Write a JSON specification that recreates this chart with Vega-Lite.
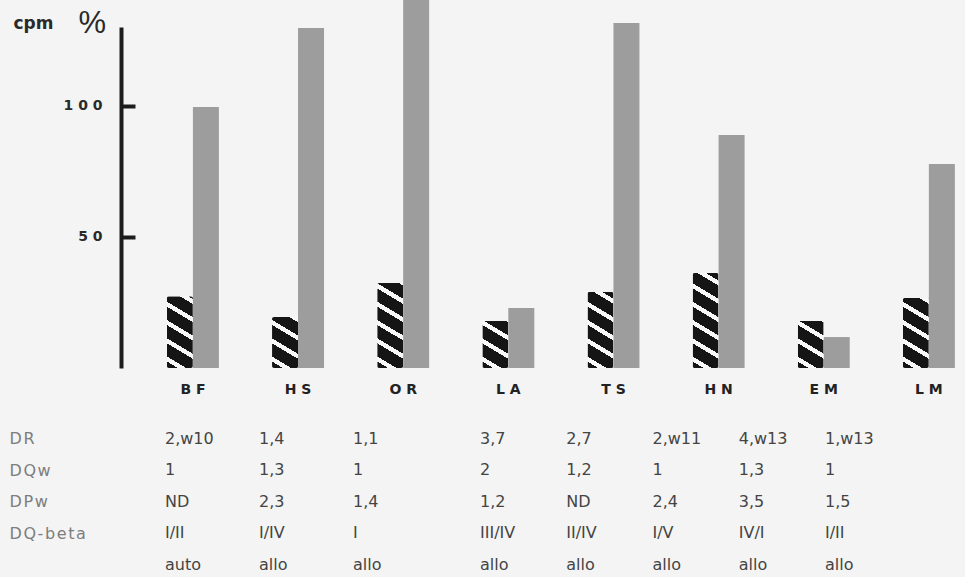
{
  "$schema": "https://vega.github.io/schema/vega-lite/v6.json",
  "width": 965,
  "height": 577,
  "autosize": "none",
  "padding": 0,
  "background": "#f4f4f4",
  "config": {"view": {"stroke": null}, "axis": {"grid": false}},
  "datasets": {
    "bars": [
      {"group": "BF", "measure": "cpm", "value": 27.4}, {"group": "BF", "measure": "%", "value": 99.5},
      {"group": "HS", "measure": "cpm", "value": 19.4}, {"group": "HS", "measure": "%", "value": 129.6},
      {"group": "OR", "measure": "cpm", "value": 32.4}, {"group": "OR", "measure": "%", "value": 142},
      {"group": "LA", "measure": "cpm", "value": 17.9}, {"group": "LA", "measure": "%", "value": 22.9},
      {"group": "TS", "measure": "cpm", "value": 29}, {"group": "TS", "measure": "%", "value": 131.5},
      {"group": "HN", "measure": "cpm", "value": 36.2}, {"group": "HN", "measure": "%", "value": 88.8},
      {"group": "EM", "measure": "cpm", "value": 17.9}, {"group": "EM", "measure": "%", "value": 11.8},
      {"group": "LM", "measure": "cpm", "value": 26.7}, {"group": "LM", "measure": "%", "value": 77.8}
    ],
    "table": [
      {"group": "BF", "row": "DR", "value": "2,w10"}, {"group": "BF", "row": "DQw", "value": "1"}, {"group": "BF", "row": "DPw", "value": "ND"}, {"group": "BF", "row": "DQ-beta", "value": "I/II"}, {"group": "BF", "row": "type", "value": "auto"},
      {"group": "HS", "row": "DR", "value": "1,4"}, {"group": "HS", "row": "DQw", "value": "1,3"}, {"group": "HS", "row": "DPw", "value": "2,3"}, {"group": "HS", "row": "DQ-beta", "value": "I/IV"}, {"group": "HS", "row": "type", "value": "allo"},
      {"group": "OR", "row": "DR", "value": "1,1"}, {"group": "OR", "row": "DQw", "value": "1"}, {"group": "OR", "row": "DPw", "value": "1,4"}, {"group": "OR", "row": "DQ-beta", "value": "I"}, {"group": "OR", "row": "type", "value": "allo"},
      {"group": "LA", "row": "DR", "value": "3,7"}, {"group": "LA", "row": "DQw", "value": "2"}, {"group": "LA", "row": "DPw", "value": "1,2"}, {"group": "LA", "row": "DQ-beta", "value": "III/IV"}, {"group": "LA", "row": "type", "value": "allo"},
      {"group": "TS", "row": "DR", "value": "2,7"}, {"group": "TS", "row": "DQw", "value": "1,2"}, {"group": "TS", "row": "DPw", "value": "ND"}, {"group": "TS", "row": "DQ-beta", "value": "II/IV"}, {"group": "TS", "row": "type", "value": "allo"},
      {"group": "HN", "row": "DR", "value": "2,w11"}, {"group": "HN", "row": "DQw", "value": "1"}, {"group": "HN", "row": "DPw", "value": "2,4"}, {"group": "HN", "row": "DQ-beta", "value": "I/V"}, {"group": "HN", "row": "type", "value": "allo"},
      {"group": "EM", "row": "DR", "value": "4,w13"}, {"group": "EM", "row": "DQw", "value": "1,3"}, {"group": "EM", "row": "DPw", "value": "3,5"}, {"group": "EM", "row": "DQ-beta", "value": "IV/I"}, {"group": "EM", "row": "type", "value": "allo"},
      {"group": "LM", "row": "DR", "value": "1,w13"}, {"group": "LM", "row": "DQw", "value": "1"}, {"group": "LM", "row": "DPw", "value": "1,5"}, {"group": "LM", "row": "DQ-beta", "value": "I/II"}, {"group": "LM", "row": "type", "value": "allo"}
    ]
  },
  "layer": [
    {
      "data": {"name": "bars"},
      "encoding": {
        "x": {
          "field": "group", "type": "nominal",
          "scale": {"domain": ["BF", "HS", "OR", "LA", "TS", "HN", "EM", "LM"], "range": [140.4, 981.5], "paddingInner": 0, "paddingOuter": 0},
          "axis": {"orient": "bottom", "offset": -209, "domain": false, "ticks": false, "title": null, "labelAngle": 0, "labelPadding": 14, "labelFont": "DejaVu Sans", "labelFontSize": 14, "labelFontWeight": "bold", "labelColor": "#222222", "labelExpr": "join(split(datum.label, ''), ' ')"}
        },
        "xOffset": {"field": "measure", "type": "nominal", "scale": {"domain": ["cpm", "%"], "range": [26.5, 78.5], "paddingInner": 0, "paddingOuter": 0}},
        "y": {
          "field": "value", "type": "quantitative",
          "scale": {"domain": [0, 130], "range": [368, 27], "nice": false, "zero": true},
          "axis": {"orient": "left", "offset": -121, "values": [50, 100], "grid": false, "domain": true, "domainWidth": 4, "domainColor": "#1c1c1c", "ticks": true, "tickSize": -14, "tickWidth": 4, "tickColor": "#1c1c1c", "labelFont": "DejaVu Sans", "labelFontSize": 14, "labelFontWeight": "bold", "labelColor": "#2a2a2a", "labelPadding": 33, "labelExpr": "join(split(datum.label, ''), ' ')", "title": "cpm", "titleAngle": 0, "titleX": -108, "titleY": 28, "titleAlign": "left", "titleBaseline": "alphabetic", "titleFont": "DejaVu Sans", "titleFontSize": 17, "titleFontWeight": "bold", "titleColor": "#2a2a2a"}
        }
      },
      "layer": [
        {"transform": [{"filter": "datum.measure === '%'"}], "mark": {"type": "bar", "fill": "#9d9d9d"}},
        {"transform": [{"filter": "datum.measure === 'cpm' && datum.group === 'BF'"}], "mark": {"type": "bar", "cornerRadius": 2, "fill": {"gradient": "linear", "x1": 0, "y1": 1, "x2": 0.2518, "y2": -0.1621, "stops": [
                {"offset": 0, "color": "#151515"}, {"offset": 0.0742, "color": "#151515"}, {"offset": 0.0742, "color": "#f8f8f8"}, {"offset": 0.1313, "color": "#f8f8f8"}, {"offset": 0.1313, "color": "#151515"},
                {"offset": 0.2831, "color": "#151515"}, {"offset": 0.2831, "color": "#f8f8f8"}, {"offset": 0.3402, "color": "#f8f8f8"}, {"offset": 0.3402, "color": "#151515"},
                {"offset": 0.4920, "color": "#151515"}, {"offset": 0.4920, "color": "#f8f8f8"}, {"offset": 0.5491, "color": "#f8f8f8"}, {"offset": 0.5491, "color": "#151515"},
                {"offset": 0.7009, "color": "#151515"}, {"offset": 0.7009, "color": "#f8f8f8"}, {"offset": 0.7580, "color": "#f8f8f8"}, {"offset": 0.7580, "color": "#151515"},
                {"offset": 0.9098, "color": "#151515"}, {"offset": 0.9098, "color": "#f8f8f8"}, {"offset": 0.9669, "color": "#f8f8f8"}, {"offset": 0.9669, "color": "#151515"}, {"offset": 1, "color": "#151515"}]}}},
        {"transform": [{"filter": "datum.measure === 'cpm' && datum.group === 'HS'"}], "mark": {"type": "bar", "cornerRadius": 2, "fill": {"gradient": "linear", "x1": 0, "y1": 1, "x2": 0.3653, "y2": -0.1942, "stops": [
                {"offset": 0, "color": "#151515"}, {"offset": 0.0976, "color": "#151515"}, {"offset": 0.0976, "color": "#f8f8f8"}, {"offset": 0.1727, "color": "#f8f8f8"}, {"offset": 0.1727, "color": "#151515"},
                {"offset": 0.3724, "color": "#151515"}, {"offset": 0.3724, "color": "#f8f8f8"}, {"offset": 0.4474, "color": "#f8f8f8"}, {"offset": 0.4474, "color": "#151515"},
                {"offset": 0.6471, "color": "#151515"}, {"offset": 0.6471, "color": "#f8f8f8"}, {"offset": 0.7222, "color": "#f8f8f8"}, {"offset": 0.7222, "color": "#151515"},
                {"offset": 0.9219, "color": "#151515"}, {"offset": 0.9219, "color": "#f8f8f8"}, {"offset": 0.9970, "color": "#f8f8f8"}, {"offset": 0.9970, "color": "#151515"}, {"offset": 1, "color": "#151515"}]}}},
        {"transform": [{"filter": "datum.measure === 'cpm' && datum.group === 'OR'"}], "mark": {"type": "bar", "cornerRadius": 2, "fill": {"gradient": "linear", "x1": 0, "y1": 1, "x2": 0.2101, "y2": -0.1450, "stops": [
                {"offset": 0, "color": "#151515"}, {"offset": 0.0646, "color": "#151515"}, {"offset": 0.0646, "color": "#f8f8f8"}, {"offset": 0.1143, "color": "#f8f8f8"}, {"offset": 0.1143, "color": "#151515"},
                {"offset": 0.2465, "color": "#151515"}, {"offset": 0.2465, "color": "#f8f8f8"}, {"offset": 0.2962, "color": "#f8f8f8"}, {"offset": 0.2962, "color": "#151515"},
                {"offset": 0.4284, "color": "#151515"}, {"offset": 0.4284, "color": "#f8f8f8"}, {"offset": 0.4781, "color": "#f8f8f8"}, {"offset": 0.4781, "color": "#151515"},
                {"offset": 0.6103, "color": "#151515"}, {"offset": 0.6103, "color": "#f8f8f8"}, {"offset": 0.6600, "color": "#f8f8f8"}, {"offset": 0.6600, "color": "#151515"},
                {"offset": 0.7922, "color": "#151515"}, {"offset": 0.7922, "color": "#f8f8f8"}, {"offset": 0.8420, "color": "#f8f8f8"}, {"offset": 0.8420, "color": "#151515"},
                {"offset": 0.9742, "color": "#151515"}, {"offset": 0.9742, "color": "#f8f8f8"}, {"offset": 1, "color": "#f8f8f8"}]}}},
        {"transform": [{"filter": "datum.measure === 'cpm' && (datum.group === 'LA' || datum.group === 'EM')"}], "mark": {"type": "bar", "cornerRadius": 2, "fill": {"gradient": "linear", "x1": 0, "y1": 1, "x2": 0.3982, "y2": -0.1997, "stops": [
                {"offset": 0, "color": "#151515"}, {"offset": 0.1038, "color": "#151515"}, {"offset": 0.1038, "color": "#f8f8f8"}, {"offset": 0.1837, "color": "#f8f8f8"}, {"offset": 0.1837, "color": "#151515"},
                {"offset": 0.3962, "color": "#151515"}, {"offset": 0.3962, "color": "#f8f8f8"}, {"offset": 0.4760, "color": "#f8f8f8"}, {"offset": 0.4760, "color": "#151515"},
                {"offset": 0.6885, "color": "#151515"}, {"offset": 0.6885, "color": "#f8f8f8"}, {"offset": 0.7684, "color": "#f8f8f8"}, {"offset": 0.7684, "color": "#151515"},
                {"offset": 0.9808, "color": "#151515"}, {"offset": 0.9808, "color": "#f8f8f8"}, {"offset": 1, "color": "#f8f8f8"}]}}},
        {"transform": [{"filter": "datum.measure === 'cpm' && datum.group === 'TS'"}], "mark": {"type": "bar", "cornerRadius": 2, "fill": {"gradient": "linear", "x1": 0, "y1": 1, "x2": 0.2374, "y2": -0.1565, "stops": [
                {"offset": 0, "color": "#151515"}, {"offset": 0.0710, "color": "#151515"}, {"offset": 0.0710, "color": "#f8f8f8"}, {"offset": 0.1255, "color": "#f8f8f8"}, {"offset": 0.1255, "color": "#151515"},
                {"offset": 0.2707, "color": "#151515"}, {"offset": 0.2707, "color": "#f8f8f8"}, {"offset": 0.3253, "color": "#f8f8f8"}, {"offset": 0.3253, "color": "#151515"},
                {"offset": 0.4705, "color": "#151515"}, {"offset": 0.4705, "color": "#f8f8f8"}, {"offset": 0.5251, "color": "#f8f8f8"}, {"offset": 0.5251, "color": "#151515"},
                {"offset": 0.6703, "color": "#151515"}, {"offset": 0.6703, "color": "#f8f8f8"}, {"offset": 0.7249, "color": "#f8f8f8"}, {"offset": 0.7249, "color": "#151515"},
                {"offset": 0.8701, "color": "#151515"}, {"offset": 0.8701, "color": "#f8f8f8"}, {"offset": 0.9247, "color": "#f8f8f8"}, {"offset": 0.9247, "color": "#151515"}, {"offset": 1, "color": "#151515"}]}}},
        {"transform": [{"filter": "datum.measure === 'cpm' && datum.group === 'HN'"}], "mark": {"type": "bar", "cornerRadius": 2, "fill": {"gradient": "linear", "x1": 0, "y1": 1, "x2": 0.1862, "y2": -0.1336, "stops": [
                {"offset": 0, "color": "#151515"}, {"offset": 0.0588, "color": "#151515"}, {"offset": 0.0588, "color": "#f8f8f8"}, {"offset": 0.1040, "color": "#f8f8f8"}, {"offset": 0.1040, "color": "#151515"},
                {"offset": 0.2242, "color": "#151515"}, {"offset": 0.2242, "color": "#f8f8f8"}, {"offset": 0.2694, "color": "#f8f8f8"}, {"offset": 0.2694, "color": "#151515"},
                {"offset": 0.3897, "color": "#151515"}, {"offset": 0.3897, "color": "#f8f8f8"}, {"offset": 0.4349, "color": "#f8f8f8"}, {"offset": 0.4349, "color": "#151515"},
                {"offset": 0.5552, "color": "#151515"}, {"offset": 0.5552, "color": "#f8f8f8"}, {"offset": 0.6004, "color": "#f8f8f8"}, {"offset": 0.6004, "color": "#151515"},
                {"offset": 0.7206, "color": "#151515"}, {"offset": 0.7206, "color": "#f8f8f8"}, {"offset": 0.7658, "color": "#f8f8f8"}, {"offset": 0.7658, "color": "#151515"},
                {"offset": 0.8861, "color": "#151515"}, {"offset": 0.8861, "color": "#f8f8f8"}, {"offset": 0.9313, "color": "#f8f8f8"}, {"offset": 0.9313, "color": "#151515"}, {"offset": 1, "color": "#151515"}]}}},
        {"transform": [{"filter": "datum.measure === 'cpm' && datum.group === 'LM'"}], "mark": {"type": "bar", "cornerRadius": 2, "fill": {"gradient": "linear", "x1": 0, "y1": 1, "x2": 0.2596, "y2": -0.1650, "stops": [
                {"offset": 0, "color": "#151515"}, {"offset": 0.0759, "color": "#151515"}, {"offset": 0.0759, "color": "#f8f8f8"}, {"offset": 0.1343, "color": "#f8f8f8"}, {"offset": 0.1343, "color": "#151515"},
                {"offset": 0.2897, "color": "#151515"}, {"offset": 0.2897, "color": "#f8f8f8"}, {"offset": 0.3481, "color": "#f8f8f8"}, {"offset": 0.3481, "color": "#151515"},
                {"offset": 0.5035, "color": "#151515"}, {"offset": 0.5035, "color": "#f8f8f8"}, {"offset": 0.5619, "color": "#f8f8f8"}, {"offset": 0.5619, "color": "#151515"},
                {"offset": 0.7173, "color": "#151515"}, {"offset": 0.7173, "color": "#f8f8f8"}, {"offset": 0.7757, "color": "#f8f8f8"}, {"offset": 0.7757, "color": "#151515"},
                {"offset": 0.9311, "color": "#151515"}, {"offset": 0.9311, "color": "#f8f8f8"}, {"offset": 0.9895, "color": "#f8f8f8"}, {"offset": 0.9895, "color": "#151515"}, {"offset": 1, "color": "#151515"}]}}}
      ]
    },
    {
      "data": {"name": "table"},
      "transform": [{"filter": {"field": "group", "oneOf": ["BF", "HS", "OR"]}}],
      "mark": {"type": "text", "align": "left", "baseline": "middle", "font": "DejaVu Sans", "fontSize": 16, "color": "#444444"},
      "encoding": {
        "x": {"field": "group", "type": "nominal", "scale": {"type": "point", "domain": ["BF", "HS", "OR"], "range": [165, 353], "padding": 0}, "axis": null},
        "y": {"field": "row", "type": "nominal", "scale": {"type": "point", "domain": ["DR", "DQw", "DPw", "DQ-beta", "type"], "range": [438.5, 565], "padding": 0},
          "axis": {"orient": "left", "offset": -9, "domain": false, "ticks": false, "grid": false, "labelAlign": "left", "labelBaseline": "middle", "labelPadding": 0, "labelFont": "DejaVu Sans", "labelFontSize": 16, "labelColor": "#7d7d7d", "labelExpr": "datum.value == 'type' ? '' : join(split(datum.label, ''), '\u200a')",
            "title": "%", "titleAngle": 0, "titleX": 69, "titleY": 32, "titleAlign": "left", "titleBaseline": "alphabetic", "titleFont": "Liberation Sans", "titleFontSize": 31, "titleFontWeight": "normal", "titleColor": "#2a2a2a"}},
        "text": {"field": "value", "type": "nominal"}
      }
    },
    {
      "data": {"name": "table"},
      "transform": [{"filter": {"field": "group", "oneOf": ["LA", "TS", "HN", "EM", "LM"]}}],
      "mark": {"type": "text", "align": "left", "baseline": "middle", "font": "DejaVu Sans", "fontSize": 16, "color": "#444444"},
      "encoding": {
        "x": {"field": "group", "type": "nominal", "scale": {"type": "point", "domain": ["LA", "TS", "HN", "EM", "LM"], "range": [480, 825], "padding": 0}, "axis": null},
        "y": {"field": "row", "type": "nominal", "scale": {"type": "point", "domain": ["DR", "DQw", "DPw", "DQ-beta", "type"], "range": [438.5, 565], "padding": 0}, "axis": null},
        "text": {"field": "value", "type": "nominal"}
      }
    }
  ],
  "resolve": {"scale": {"x": "independent", "y": "independent"}, "axis": {"x": "independent", "y": "independent"}}
}
